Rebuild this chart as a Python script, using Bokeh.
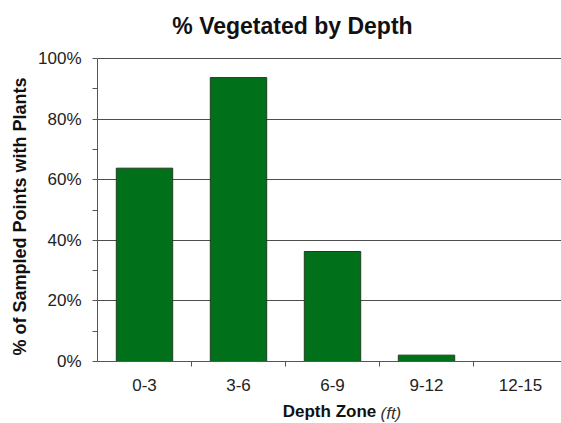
from bokeh.plotting import figure
from bokeh.models import FixedTicker, Range1d, ColumnDataSource, Title, Label
from bokeh.embed import file_html
from bokeh.resources import INLINE

categories = ["0-3", "3-6", "6-9", "9-12", "12-15"]
pct_vegetated = [63.8, 93.7, 36.3, 2.1, 0.0]
y_ticks = [0, 20, 40, 60, 80, 100]
y_minor = [10, 30, 50, 70, 90]

xs = list(range(len(categories)))
src = ColumnDataSource(dict(x=xs, top=pct_vegetated, cat=categories))

FONT = "Liberation Sans"

# frame spans from canvas top (y=0) to the x axis at y=361; 0..100% occupies 361..58
Y_TOP = 100 * 361 / 303

p = figure(width=561, height=423, output_backend="svg", toolbar_location=None,
           title_location=None,
           x_range=Range1d(-0.5, 4.436), y_range=Range1d(0, Y_TOP),
           min_border_left=97, min_border_right=0, min_border_top=0,
           min_border_bottom=62)
p.outline_line_color = None
p.background_fill_color = "white"
p.border_fill_color = "white"

p.vbar(x="x", top="top", width=0.6, source=src, fill_color="#00701A",
       line_color="#1E3F1E", line_width=1)

# title (inside the frame, above the 100% line)
p.add_layout(Label(x=1.574, y=110.8, text="% Vegetated by Depth", text_font=FONT,
                   text_font_size="23px", text_font_style="bold", text_align="center",
                   text_baseline="alphabetic", text_color="#111111"))

# grid
p.xgrid.grid_line_color = None
p.ygrid.ticker = FixedTicker(ticks=y_ticks)
p.ygrid.grid_line_color = "#4d4d4d"
p.ygrid.grid_line_width = 1

# y axis
p.yaxis.bounds = (0, 100)
p.yaxis.ticker = FixedTicker(ticks=y_ticks, minor_ticks=y_minor)
p.yaxis.major_label_overrides = {t: f"{t}%" for t in y_ticks}
p.yaxis.major_tick_out = 5
p.yaxis.major_tick_in = 0
p.yaxis.minor_tick_out = 5
p.yaxis.minor_tick_in = 0
p.yaxis.major_label_standoff = 11
p.yaxis.major_label_text_font = FONT
p.yaxis.major_label_text_font_size = "17px"
p.yaxis.major_label_text_color = "#222222"
p.yaxis.axis_line_color = "#555555"
p.yaxis.major_tick_line_color = "#555555"
p.yaxis.minor_tick_line_color = "#555555"

ylab = Title(text="% of Sampled Points with Plants", align="left", offset=6,
             standoff=11, vertical_align="bottom",
             text_font=FONT, text_font_size="18px", text_font_style="bold",
             text_color="#111111")
p.add_layout(ylab, "left")

# x axis
p.xaxis.ticker = FixedTicker(ticks=xs, minor_ticks=[0.5, 1.5, 2.5, 3.5])
p.xaxis.major_label_overrides = {i: c for i, c in enumerate(categories)}
p.xaxis.major_tick_out = 0
p.xaxis.major_tick_in = 0
p.xaxis.minor_tick_out = 5
p.xaxis.minor_tick_in = 0
p.xaxis.major_label_standoff = 12
p.xaxis.major_label_text_font = FONT
p.xaxis.major_label_text_font_size = "17px"
p.xaxis.major_label_text_color = "#222222"
p.xaxis.axis_line_color = "#555555"
p.xaxis.minor_tick_line_color = "#555555"
p.xaxis.axis_label = "Depth Zone"
p.xaxis.axis_label_standoff = 8
p.xaxis.axis_label_text_font = FONT
p.xaxis.axis_label_text_font_size = "17px"
p.xaxis.axis_label_text_font_style = "bold"
p.xaxis.axis_label_text_color = "#111111"

ft = Title(text="(ft)", align="left", offset=283, standoff=-40, vertical_align="top",
           text_font=FONT, text_font_size="17px", text_font_style="italic",
           text_color="#333333")
p.add_layout(ft, "below")

open("out.html", "w").write(file_html(p, INLINE))
